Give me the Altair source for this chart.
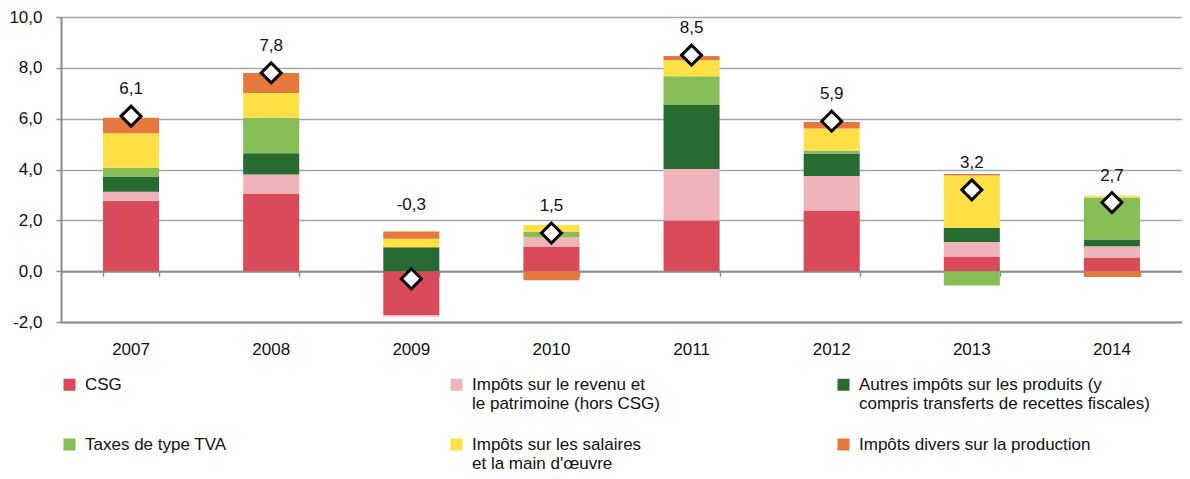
import altair as alt
import pandas as pd

years = ["2007", "2008", "2009", "2010", "2011", "2012", "2013", "2014"]
series = [
    "CSG",
    "Impôts sur le revenu et\nle patrimoine (hors CSG)",
    "Autres impôts sur les produits (y\ncompris transferts de recettes fiscales)",
    "Taxes de type TVA",
    "Impôts sur les salaires\n\u00a0\u00a0et la main d'œuvre",
    "Impôts divers sur la production",
]
colors = ["#D94B5A", "#EFB4B9", "#276B33", "#86BD57", "#FFE047", "#E5793D"]

csg = [2.77, 3.06, -1.72, 0.97, 1.99, 2.39, 0.58, 0.54]
impots_revenu = [0.35, 0.74, -0.06, 0.36, 2.03, 1.35, 0.57, 0.44]
autres_produits = [0.60, 0.84, 0.94, 0.00, 2.52, 0.89, 0.56, 0.27]
taxes_tva = [0.35, 1.40, 0.00, 0.21, 1.13, 0.12, -0.56, 1.65]
salaires = [1.36, 0.97, 0.34, 0.28, 0.63, 0.86, 2.05, 0.07]
divers = [0.61, 0.79, 0.28, -0.36, 0.17, 0.26, 0.06, -0.23]
totals = [6.1, 7.8, -0.3, 1.5, 8.5, 5.9, 3.2, 2.7]

values = [csg, impots_revenu, autres_produits, taxes_tva, salaires, divers]

rows = []
for si, (name, vals) in enumerate(zip(series, values)):
    for y, v in zip(years, vals):
        rows.append({"year": y, "series": name, "order": si, "value": v})
bars_df = pd.DataFrame(rows)

pos_top = [sum(max(v[i], 0) for v in values) for i in range(len(years))]
tot_df = pd.DataFrame({
    "year": years,
    "total": totals,
    "anchor": [t if t >= 0 else p for t, p in zip(totals, pos_top)],
})

FONT = "Liberation Sans Narrow, Arial Narrow, Liberation Sans, Arial, sans-serif"
FS = 17
GRAY = "#8c8c8c"
COMMA = "(datum.value < 0 ? '-' : '') + replace(format(abs(datum.value), '.1f'), '.', ',')"

x_scale = alt.Scale(paddingInner=0.6, paddingOuter=0.3)

# bottom axis (labels), sitting on the -2 line
x_bottom = alt.X(
    "year:N",
    title=None,
    scale=x_scale,
    axis=alt.Axis(
        orient="bottom",
        domainColor=GRAY,
        domainWidth=2,
        ticks=False,
        labelPadding=19,
        labelFontSize=FS,
        labelFont=FONT,
        labelColor="#111111",
        labelAngle=0,
        grid=False,
    ),
)

# zero-line axis (ticks between categories, no labels)
x_zero = alt.X(
    "year:N",
    title=None,
    scale=x_scale,
    axis=alt.Axis(
        orient="bottom",
        offset=-50.8,
        domainColor=GRAY,
        domainWidth=2,
        tickColor=GRAY,
        tickWidth=1.5,
        tickSize=5,
        tickBand="extent",
        labels=False,
        grid=False,
    ),
)

y_enc = alt.Y(
    "value:Q",
    stack="zero",
    title=None,
    scale=alt.Scale(domain=[-2, 10], nice=False),
    axis=alt.Axis(
        values=[-2, 0, 2, 4, 6, 8, 10],
        labelExpr=COMMA,
        labelFontSize=FS,
        labelFont=FONT,
        labelColor="#111111",
        labelPadding=14,
        domainColor=GRAY,
        domainWidth=2,
        tickColor=GRAY,
        tickWidth=1.5,
        tickSize=5,
        gridColor="#a6a6a6",
        gridWidth=1.5,
    ),
)

bars = alt.Chart(bars_df).mark_bar().encode(
    x=x_bottom,
    y=y_enc,
    color=alt.Color(
        "series:N",
        sort=series,
        scale=alt.Scale(domain=series, range=colors),
        legend=alt.Legend(
            title=None,
            orient="none",
            direction="horizontal",
            legendX=0,
            legendY=359,
            columns=3,
            gridAlign="all",
            columnPadding=72,
            rowPadding=23,
            symbolType="square",
            symbolSize=144,
            symbolStrokeWidth=0,
            labelFont=FONT,
            labelFontSize=FS,
            labelColor="#111111",
            labelOffset=7,
            labelLimit=0,
            labelExpr="split(indexof(datum.label, '\\n') >= 0 ? datum.label : datum.label + '\\n', '\\n')",
        ),
    ),
    order=alt.Order("order:Q"),
)

zero_axis = alt.Chart(tot_df).mark_point(opacity=0).encode(
    x=x_zero,
    y=alt.Y("total:Q"),
)

diamonds = alt.Chart(tot_df).mark_point(
    shape="diamond", filled=True, fill="white", stroke="black",
    strokeWidth=3, size=400, opacity=1,
).encode(
    x=alt.X("year:N", axis=None),
    y=alt.Y("total:Q"),
)

labels = alt.Chart(tot_df).transform_calculate(
    lab="(datum.total < 0 ? '-' : '') + replace(format(abs(datum.total), '.1f'), '.', ',')"
).mark_text(
    font=FONT, fontSize=FS, color="#111111", baseline="alphabetic", dy=-22,
).encode(
    x=alt.X("year:N", axis=None),
    y=alt.Y("anchor:Q"),
    text="lab:N",
)

chart = alt.layer(bars, zero_axis, diamonds, labels).resolve_axis(
    x="independent"
).properties(
    width=1121,
    height=305,
    autosize=alt.AutoSizeParams(type="none"),
    padding={"left": 53, "top": 9, "right": 0, "bottom": 149},
).configure_view(stroke=None)

chart.save("out.html", embed_options={"renderer": "svg", "actions": False})
